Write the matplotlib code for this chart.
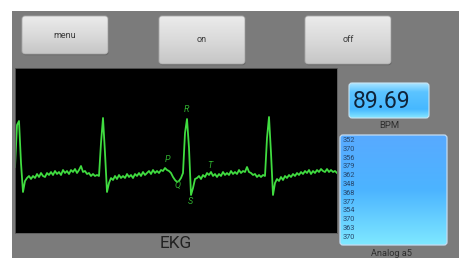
import numpy as np
import matplotlib
matplotlib.use("Agg")
import matplotlib.pyplot as plt
from matplotlib.patches import FancyBboxPatch, Rectangle

# ---------------- data ----------------
ekg_values = [
    66, 108, 112, 70, 41, 52, 55,
    57, 54, 57, 55, 59, 56, 60, 57, 56, 60, 58, 61, 58, 62, 59, 61, 58, 63, 60, 62,
    59, 63, 61, 64, 60, 63, 67, 61, 62, 59, 60, 57, 59, 57, 58, 57,
    90, 115, 80, 41, 50, 55,
    53, 57, 54, 58, 55, 57, 55, 59, 56, 58, 55, 59, 57, 60, 57, 61, 58, 60, 62, 59,
    63, 60, 62, 60, 63, 62, 65,
    63, 62, 60, 56, 53, 51, 52, 55, 60, 100, 114, 85, 38, 45, 54, 55,
    57, 54, 58, 56, 60, 58, 61, 57, 59, 56, 59, 57, 61, 58, 60, 58, 62, 59, 61, 59,
    63, 60, 62, 61, 66, 61, 60, 58, 59, 56, 58, 56, 58, 57,
    95, 116, 80, 38, 50, 54,
    52, 56, 53, 57, 55, 58, 56, 59, 57, 60, 58, 61, 59, 62, 60, 63, 59, 62, 60, 63,
    61, 64, 62, 61, 64, 61, 63, 61, 62, 60,
]
wave_labels = ["P", "Q", "R", "S", "T"]
wave_label_x = [76, 81.5, 85.5, 87.5, 97.5]
wave_label_y = [74, 48, 124, 31, 67]

button_labels = ["menu", "on", "off"]
bpm_value = "89.69"
analog_values = [352, 370, 356, 379, 362, 348, 368, 377, 354, 370, 363, 370]

FONT = ["Roboto", "DejaVu Sans"]

W, H = 460, 258
fig = plt.figure(figsize=(W / 100, H / 100), dpi=100)
fig.patch.set_facecolor("white")

ui = fig.add_axes([0, 0, 1, 1])
ui.set_xlim(0, W)
ui.set_ylim(H, 0)
ui.axis("off")

# gray panel
ui.add_patch(Rectangle((12, 11), W - 12, H - 11, facecolor="#7b7b7b", edgecolor="none", zorder=0))


def gradient_box(ax, x0, y0, x1, y1, stops, r=3, edge="#a8a8a8", lw=0.6, shadow=True):
    if shadow:
        ax.add_patch(FancyBboxPatch((x0 + 0.5, y0 + 1.2), x1 - x0, y1 - y0,
                                    boxstyle=f"round,pad=0,rounding_size={r}",
                                    facecolor="#5e5e5e", edgecolor="none", zorder=1))
    patch = FancyBboxPatch((x0, y0), x1 - x0, y1 - y0,
                           boxstyle=f"round,pad=0,rounding_size={r}",
                           facecolor="none", edgecolor=edge, linewidth=lw, zorder=3)
    ax.add_patch(patch)
    n = 64
    pos = np.linspace(0, 1, n)
    sp = [s[0] for s in stops]
    cols = np.array([matplotlib.colors.to_rgb(s[1]) for s in stops])
    arr = np.stack([np.interp(pos, sp, cols[:, k]) for k in range(3)], axis=-1)[:, None, :]
    im = ax.imshow(arr, extent=(x0, x1, y1, y0), aspect="auto", origin="upper",
                   interpolation="bilinear", zorder=2)
    im.set_clip_path(patch)


# buttons
btn_boxes = [(22, 16, 108, 54), (159, 16, 245, 64), (305, 16, 391, 64)]
for lab, (x0, y0, x1, y1) in zip(button_labels, btn_boxes):
    gradient_box(ui, x0, y0, x1, y1, [(0, "#ebebeb"), (0.5, "#dadada"), (1, "#c6c6c6")])
    ui.text((x0 + x1) / 2, (y0 + y1) / 2, lab, ha="center", va="center",
            fontsize=6.5, color="#3a3a3a", family=FONT, zorder=4)

# BPM box
gradient_box(ui, 349, 83, 429, 118,
             [(0, "#a8e4ff"), (0.25, "#5cc4ff"), (0.75, "#46b8ff"), (1, "#86e6ff")],
             r=3, edge="#c8e4f4", lw=0.8, shadow=False)
ui.text(353, 102, bpm_value, ha="left", va="center", fontsize=16.5,
        color="#10243a", family=FONT, zorder=4)
ui.text(389, 125, "BPM", ha="center", va="center", fontsize=6.8,
        color="#2e2e2e", family=FONT, zorder=4)

# Analog box
gradient_box(ui, 340, 135, 447, 245,
             [(0, "#58aaff"), (0.5, "#4cb4ff"), (1, "#7ee8ff")],
             r=3, edge="#c4dcf2", lw=0.9, shadow=False)
for k, v in enumerate(analog_values):
    ui.text(343, 140.5 + k * 8.8, str(v), ha="left", va="center", fontsize=5.3,
            color="#27466c", family=FONT, zorder=4)
ui.text(391, 253, "Analog a5", ha="center", va="center", fontsize=6.6,
        color="#2e2e2e", family=FONT, zorder=4)

# EKG label
ui.text(176, 243, "EKG", ha="center", va="center", fontsize=12.5,
        color="#222222", family=FONT, zorder=4)

# EKG plot
ax = fig.add_axes([15 / W, (H - 233) / H, 322 / W, 165 / H])
ax.set_facecolor("black")
t = np.arange(len(ekg_values))
ax.plot(t, ekg_values, color="#40dc40", linewidth=1.3, solid_joinstyle="round")
for lab, lx, ly in zip(wave_labels, wave_label_x, wave_label_y):
    ax.text(lx, ly, lab, ha="center", va="center", fontsize=6.5, style="italic",
            color="#2fae2f", family=FONT)
ax.set_xlim(0, len(ekg_values) - 1)
ax.set_ylim(0, 165)
ax.set_xticks([])
ax.set_yticks([])
for s in ax.spines.values():
    s.set_edgecolor("#5a5a5a")
    s.set_linewidth(0.6)

fig.savefig("out.png", dpi=100, facecolor=fig.get_facecolor())
